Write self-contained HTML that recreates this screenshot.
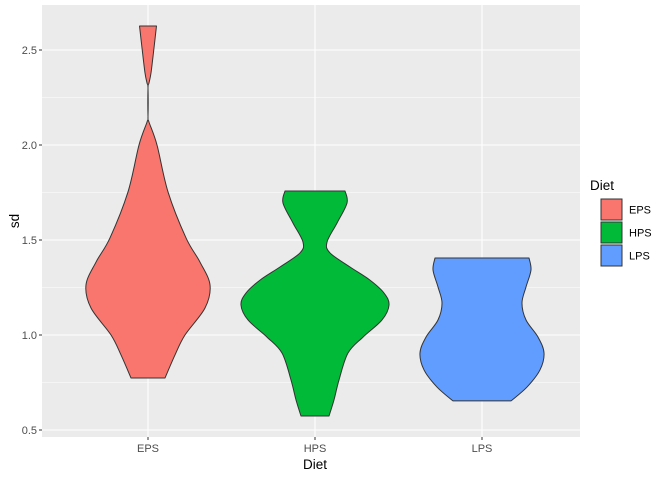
<!DOCTYPE html>
<html><head><meta charset="utf-8"><style>
body{margin:0;background:#fff;}
svg text{font-family:"Liberation Sans",Arial,sans-serif;}
</style></head><body>
<svg id="chart" width="672" height="480" xmlns="http://www.w3.org/2000/svg">
<rect x="0" y="0" width="672" height="480" fill="#fff"/>
</svg>
<script>
const categories = ["EPS","HPS","LPS"];
const colors = ["#F8766D","#00BA38","#619CFF"];
const yTicks = [0.5,1.0,1.5,2.0,2.5];
const yTickLabels = ["0.5","1.0","1.5","2.0","2.5"];
const epsValues = [2.626,2.511,2.379,2.326,2.30,2.15,2.121,2.0,1.753,1.511,1.384,1.263,1.142,1.0,0.895,0.774];
const epsDensity = [0.113,0.08,0.04,0.013,0,0,0.013,0.12,0.267,0.507,0.693,0.827,0.76,0.493,0.36,0.227];
const hpsValues = [1.758,1.695,1.589,1.489,1.432,1.358,1.289,1.221,1.158,1.079,0.989,0.905,0.763,0.658,0.574];
const hpsDensity = [0.40,0.427,0.293,0.16,0.2,0.467,0.733,0.92,0.987,0.893,0.64,0.44,0.32,0.253,0.187];
const lpsValues = [1.405,1.342,1.253,1.168,1.079,0.989,0.905,0.816,0.726,0.653];
const lpsDensity = [0.627,0.653,0.587,0.533,0.587,0.747,0.827,0.773,0.6,0.387];
const seriesValues = [epsValues,hpsValues,lpsValues];
const seriesDensity = [epsDensity,hpsDensity,lpsDensity];

const NS="http://www.w3.org/2000/svg";
const svg=document.getElementById('chart');
const P={x0:42,x1:580,y0:5,y1:437};
function yScale(v){return 430-(v-0.5)*190;}
function xScale(i){return 148+167*i;}
const maxHalf=75;
function mk(tag,attrs,parent){const e=document.createElementNS(NS,tag);for(const k in attrs)e.setAttribute(k,attrs[k]);(parent||svg).appendChild(e);return e;}

const bg=mk('rect',{x:P.x0,y:P.y0,width:P.x1-P.x0,height:P.y1-P.y0,fill:'#EBEBEB'});


for(let i=0;i<yTicks.length-1;i++){
  const y=yScale((yTicks[i]+yTicks[i+1])/2);
  const l=mk('line',{x1:P.x0,x2:P.x1,y1:y,y2:y,stroke:'#fff','stroke-width':0.55});
  
  
}
yTicks.forEach((t,i)=>{
  const y=yScale(t);
  const l=mk('line',{x1:P.x0,x2:P.x1,y1:y,y2:y,stroke:'#fff','stroke-width':1.1});
  
  
  mk('line',{x1:P.x0-3,x2:P.x0,y1:y,y2:y,stroke:'#333','stroke-width':1});
  const tx=mk('text',{x:P.x0-5,y:y+4,'text-anchor':'end','font-size':11,fill:'#4D4D4D'});
  tx.textContent=yTickLabels[i];
  
  
});
categories.forEach((c,i)=>{
  const x=xScale(i);
  const l=mk('line',{x1:x,x2:x,y1:P.y0,y2:P.y1,stroke:'#fff','stroke-width':1.1});
  
  
  mk('line',{x1:x,x2:x,y1:P.y1,y2:P.y1+3,stroke:'#333','stroke-width':1});
  const tx=mk('text',{x:x,y:P.y1+15,'text-anchor':'middle','font-size':11,fill:'#4D4D4D'});
  tx.textContent=c;
  
  
});
function smooth(pts){
  let d='M'+pts[0][0]+','+pts[0][1];
  for(let i=0;i<pts.length-1;i++){
    const p0=pts[Math.max(i-1,0)],p1=pts[i],p2=pts[i+1],p3=pts[Math.min(i+2,pts.length-1)];
    const c1=[p1[0]+(p2[0]-p0[0])/6,p1[1]+(p2[1]-p0[1])/6];
    const c2=[p2[0]-(p3[0]-p1[0])/6,p2[1]-(p3[1]-p1[1])/6];
    d+=' C'+c1[0]+','+c1[1]+' '+c2[0]+','+c2[1]+' '+p2[0]+','+p2[1];
  }
  return d;
}
categories.forEach((c,i)=>{
  const cx=xScale(i), vals=seriesValues[i], dens=seriesDensity[i];
  const right=vals.map((v,j)=>[cx+dens[j]*maxHalf,yScale(v)]);
  const left=vals.map((v,j)=>[cx-dens[j]*maxHalf,yScale(v)]).reverse();
  let d=smooth(right);
  d+=' L'+left[0][0]+','+left[0][1]+smooth(left).replace(/^M[^C]*/,' ')+' Z';
  const p=mk('path',{d:d,fill:colors[i],stroke:'#333','stroke-width':1,'stroke-linejoin':'round'});
  
  
});
const yt=mk('text',{x:0,y:0,transform:'translate(19,221) rotate(-90)','text-anchor':'middle','font-size':13.5,fill:'#000'});
yt.textContent='sd';


const xt=mk('text',{x:315,y:469,'text-anchor':'middle','font-size':13.5,fill:'#000'});
xt.textContent='Diet';


const lt=mk('text',{x:590,y:190,'font-size':13.5,fill:'#000'});
lt.textContent='Diet';


categories.forEach((c,i)=>{
  const y=198+i*23;
  const g=mk('g',{});
  
  
  mk('rect',{x:601,y:y+1,width:21,height:21,fill:colors[i],stroke:'#333','stroke-width':1},g);
  const t=mk('text',{x:629,y:y+15.5,'font-size':11,fill:'#000'},g);
  t.textContent=c;
});
</script>
</body></html>
